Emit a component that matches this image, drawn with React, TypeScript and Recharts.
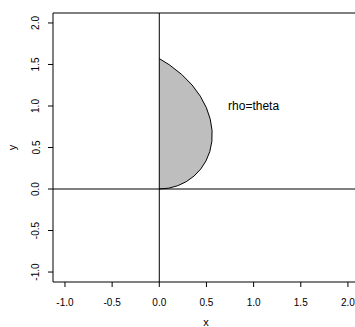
import React from 'react';
import { ComposedChart, Area, XAxis, YAxis, ReferenceLine, ReferenceDot, Label } from 'recharts';

// rho = theta, theta in [0, pi/2], points read as (x, y)
const curveX = [0, 0.0995, 0.196, 0.2866, 0.3684, 0.4388, 0.4952, 0.5354, 0.5574, 0.5594, 0.5403, 0.499, 0.4348, 0.3477, 0.238, 0.1061, 0];
const curveY = [0, 0.01, 0.0397, 0.0887, 0.1558, 0.2397, 0.3388, 0.4509, 0.5739, 0.705, 0.8415, 0.9803, 1.1184, 1.2526, 1.3796, 1.4962, 1.5708];
const xTicks = [-1, -0.5, 0, 0.5, 1, 1.5, 2];
const yTicks = [-1, -0.5, 0, 0.5, 1, 1.5, 2];
const curveLabel = 'rho=theta';
const labelPos = { x: 1, y: 1 };

const data = curveX.map((x, i) => ({ x, y: curveY[i] }));

const FONT = 'Liberation Sans, Arial, sans-serif';

const XTick = (props: any) => {
  const { x, y, payload } = props;
  return (
    <text x={x} y={y + 19} textAnchor="middle" fontSize={10} fontFamily={FONT} fill="#000">
      {Number(payload.value).toFixed(1)}
    </text>
  );
};

const YTick = (props: any) => {
  const { x, y, payload } = props;
  const cx = x - 12;
  return (
    <text x={cx} y={y} dy="0.35em" transform={`rotate(-90, ${cx}, ${y})`} textAnchor="middle" fontSize={10} fontFamily={FONT} fill="#000">
      {Number(payload.value).toFixed(1)}
    </text>
  );
};

export default function App() {
  return (
    <div style={{ position: 'absolute', left: 0, top: 0, width: 355, height: 327, background: '#fff' }}>
      <ComposedChart
        width={355}
        height={327}
        data={data}
        layout="vertical"
        margin={{ top: 13, right: 0, bottom: 0, left: 0 }}
      >
        <XAxis
          type="number"
          dataKey="x"
          domain={[-1.127, 2.075]}
          allowDataOverflow
          ticks={xTicks}
          tick={<XTick />}
          tickSize={5}
          tickMargin={0}
          height={45}
          stroke="#000"
          tickLine={{ stroke: '#000' }}
          axisLine={{ stroke: '#000' }}
          interval={0}
        >
          <Label
            content={(p: any) => {
              const vb = p.viewBox || {};
              return (
                <text x={vb.x + vb.width / 2 + 2} y={326} textAnchor="middle" fontSize={11} fontFamily={FONT} fill="#000">
                  x
                </text>
              );
            }}
          />
        </XAxis>
        <YAxis
          type="number"
          dataKey="y"
          domain={[-1.12, 2.12]}
          allowDataOverflow
          reversed
          ticks={yTicks}
          tick={<YTick />}
          tickSize={5}
          tickMargin={0}
          width={53}
          stroke="#000"
          tickLine={{ stroke: '#000' }}
          axisLine={{ stroke: '#000' }}
          interval={0}
        >
          <Label
            content={(p: any) => {
              const vb = p.viewBox || {};
              const cy = vb.y + vb.height / 2;
              return (
                <text x={16} y={cy} transform={`rotate(-90, 16, ${cy})`} textAnchor="middle" fontSize={11} fontFamily={FONT} fill="#000">
                  y
                </text>
              );
            }}
          />
        </YAxis>
        <ReferenceLine y={2.12} stroke="#000" strokeWidth={1} />
        <Area
          type="linear"
          dataKey="x"
          baseValue={0}
          fill="#bebebe"
          fillOpacity={1}
          stroke="#000"
          strokeWidth={1}
          isAnimationActive={false}
          dot={false}
          activeDot={false}
        />
        <ReferenceLine x={0} stroke="#000" strokeWidth={1} />
        <ReferenceLine y={0} stroke="#000" strokeWidth={1} />
        <ReferenceDot
          x={labelPos.x}
          y={labelPos.y}
          r={0}
          fill="none"
          stroke="none"
          label={{ value: curveLabel, position: 'center', fontSize: 12, fontFamily: FONT, fill: '#000' }}
        />
      </ComposedChart>
    </div>
  );
}
